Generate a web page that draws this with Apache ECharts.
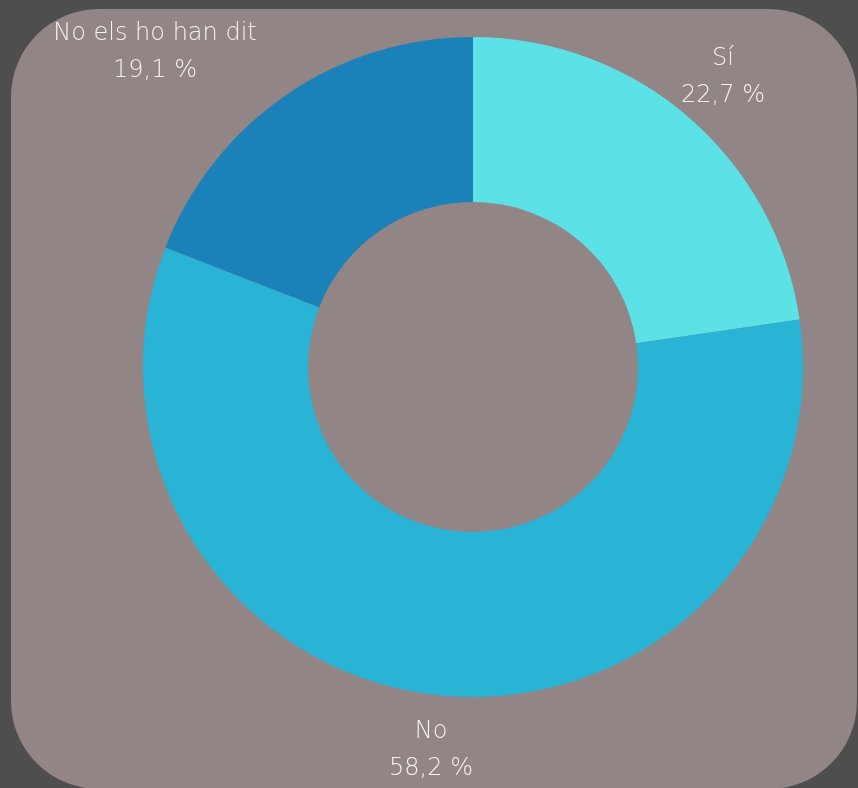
<!DOCTYPE html>
<html>
<head>
<meta charset="utf-8">
<script src="https://cdn.jsdelivr.net/npm/echarts@6/dist/echarts.min.js"></script>
<style>
html,body{margin:0;padding:0;background:#4e4e4e;}
#c{width:858px;height:788px;}
</style>
</head>
<body>
<div id="c"></div>
<script>
const categories = ["Sí", "No", "No els ho han dit"];
const values = [22.7, 58.2, 19.1];
const colors = ["#5ce1e6", "#29b3d4", "#1a82b8"];
const labelPos = [[723, 77], [431, 750], [155, 52]];

const chart = echarts.init(document.getElementById('c'));
chart.setOption({
  backgroundColor: '#4e4e4e',
  animation: false,
  graphic: [{
    type: 'rect',
    z: -10,
    shape: { x: 11, y: 9, width: 846, height: 780, r: 88 },
    style: { fill: '#928586' }
  }],
  series: [{
    type: 'pie',
    center: [473, 367],
    radius: [165, 330],
    startAngle: 90,
    clockwise: true,
    silent: true,
    data: categories.map((n, i) => ({ name: n, value: values[i], itemStyle: { color: colors[i] } })),
    label: {
      show: true,
      position: 'outside',
      color: '#f6f1f1',
      fontFamily: 'DejaVu Sans',
      fontWeight: 200,
      fontSize: 24,
      lineHeight: 37,
      align: 'center',
      verticalAlign: 'middle',
      formatter: p => p.name + '\n' + p.value.toFixed(1).replace('.', ',') + ' %'
    },
    labelLine: { show: false },
    labelLayout: p => ({ x: labelPos[p.dataIndex][0], y: labelPos[p.dataIndex][1], align: 'center', verticalAlign: 'middle' })
  }]
});
</script>
</body>
</html>
